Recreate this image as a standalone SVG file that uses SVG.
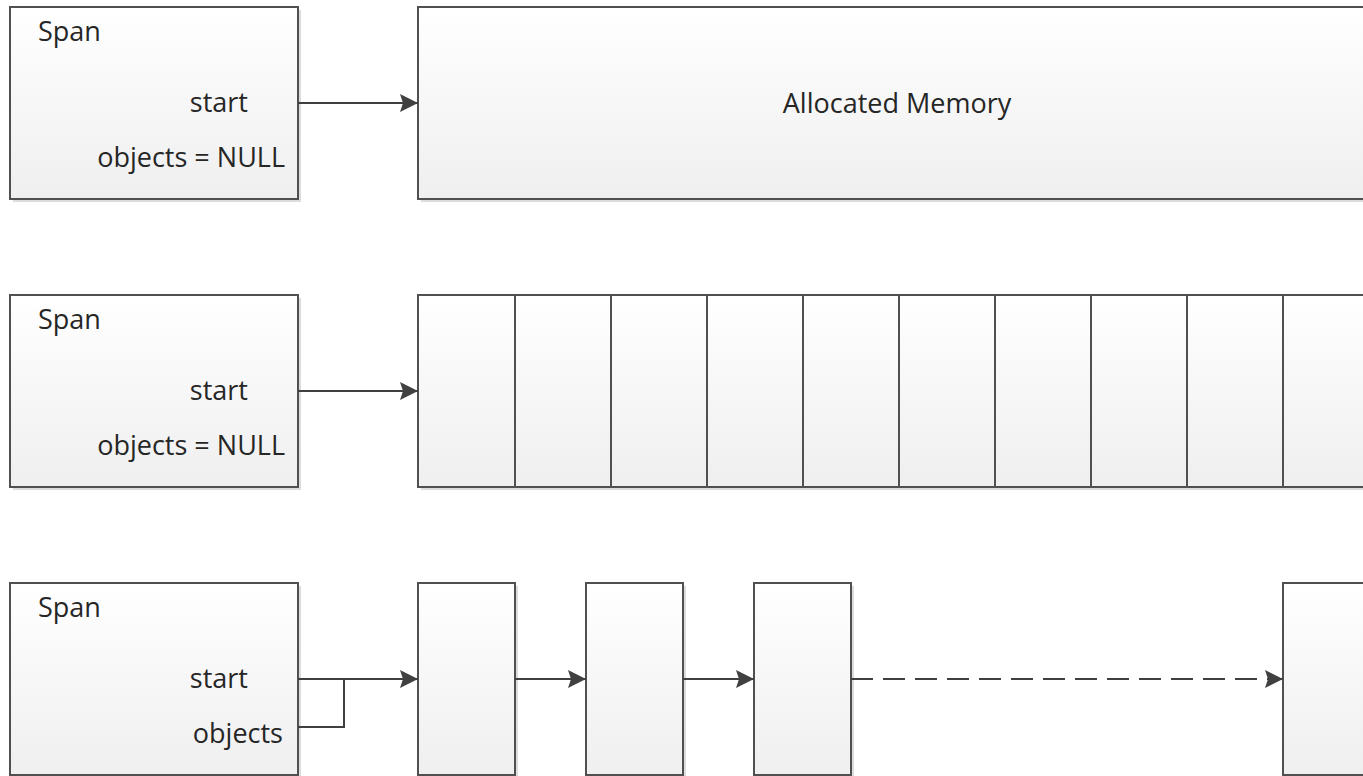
<svg xmlns="http://www.w3.org/2000/svg" width="1363" height="776" viewBox="0 0 1363 776">
<defs>
<linearGradient id="g" x1="0" y1="0" x2="0" y2="1">
<stop offset="0" stop-color="#ffffff"/>
<stop offset="1" stop-color="#efefef"/>
</linearGradient>
<marker id="arr" markerUnits="userSpaceOnUse" markerWidth="20" markerHeight="20" refX="18" refY="9" orient="auto">
<path d="M0,0 L18,9 L0,18 L3,9 z" fill="#404040"/>
</marker>
</defs>
<style>
.box{fill:url(#g);stroke:#505050;stroke-width:2}
.sh{fill:#dcdcdc}
.t{font-family:"Open Sans","Liberation Sans",sans-serif;font-size:27px;fill:#262626}
.r{text-anchor:end}
.c{text-anchor:middle}
.ln{fill:none;stroke:#404040;stroke-width:2}
.dash{stroke-dasharray:22 10}
</style>
<rect width="1363" height="776" fill="#ffffff"/>

<!-- Row 1 -->
<g id="span1">
<rect class="sh" x="13" y="10" width="288" height="192"/>
<rect class="box" x="10" y="7" width="288" height="192"/>
<text class="t" x="38" y="41">Span</text>
<text class="t r" x="248" y="112">start</text>
<text class="t r" x="285" y="167">objects = NULL</text>
</g>
<g id="mem1">
<rect class="sh" x="421" y="10" width="960" height="192"/>
<rect class="box" x="418" y="7" width="960" height="192"/>
<text class="t c" x="897" y="113">Allocated Memory</text>
</g>

<!-- Row 2 -->
<g id="span2">
<rect class="sh" x="13" y="298" width="288" height="192"/>
<rect class="box" x="10" y="295" width="288" height="192"/>
<text class="t" x="38" y="329">Span</text>
<text class="t r" x="248" y="400">start</text>
<text class="t r" x="285" y="455">objects = NULL</text>
</g>
<g id="cells2">
<rect class="sh" x="421" y="298" width="960" height="192"/>
<rect class="box" x="418" y="295" width="97" height="192"/>
<rect class="box" x="515" y="295" width="96" height="192"/>
<rect class="box" x="611" y="295" width="96" height="192"/>
<rect class="box" x="707" y="295" width="96" height="192"/>
<rect class="box" x="803" y="295" width="96" height="192"/>
<rect class="box" x="899" y="295" width="96" height="192"/>
<rect class="box" x="995" y="295" width="96" height="192"/>
<rect class="box" x="1091" y="295" width="96" height="192"/>
<rect class="box" x="1187" y="295" width="96" height="192"/>
<rect class="box" x="1283" y="295" width="96" height="192"/>
</g>

<!-- Row 3 -->
<g id="span3">
<rect class="sh" x="13" y="586" width="288" height="192"/>
<rect class="box" x="10" y="583" width="288" height="192"/>
<text class="t" x="38" y="617">Span</text>
<text class="t r" x="248" y="688">start</text>
<text class="t r" x="283" y="743">objects</text>
</g>
<g id="obj1">
<rect class="sh" x="421" y="586" width="97" height="192"/>
<rect class="box" x="418" y="583" width="97" height="192"/>
</g>
<g id="obj2">
<rect class="sh" x="589" y="586" width="97" height="192"/>
<rect class="box" x="586" y="583" width="97" height="192"/>
</g>
<g id="obj3">
<rect class="sh" x="757" y="586" width="97" height="192"/>
<rect class="box" x="754" y="583" width="97" height="192"/>
</g>
<g id="objN">
<rect class="sh" x="1286" y="586" width="97" height="192"/>
<rect class="box" x="1283" y="583" width="97" height="192"/>
</g>

<g id="connectors">
<line class="ln" x1="298" y1="103" x2="418" y2="103" marker-end="url(#arr)"/>
<line class="ln" x1="298" y1="391" x2="418" y2="391" marker-end="url(#arr)"/>
<line class="ln" x1="298" y1="679" x2="418" y2="679" marker-end="url(#arr)"/>
<polyline class="ln" points="298,727 344,727 344,679"/>
<line class="ln" x1="515" y1="679" x2="586" y2="679" marker-end="url(#arr)"/>
<line class="ln" x1="683" y1="679" x2="754" y2="679" marker-end="url(#arr)"/>
<line class="ln dash" x1="851" y1="679" x2="1283" y2="679" marker-end="url(#arr)"/>
</g>
</svg>
